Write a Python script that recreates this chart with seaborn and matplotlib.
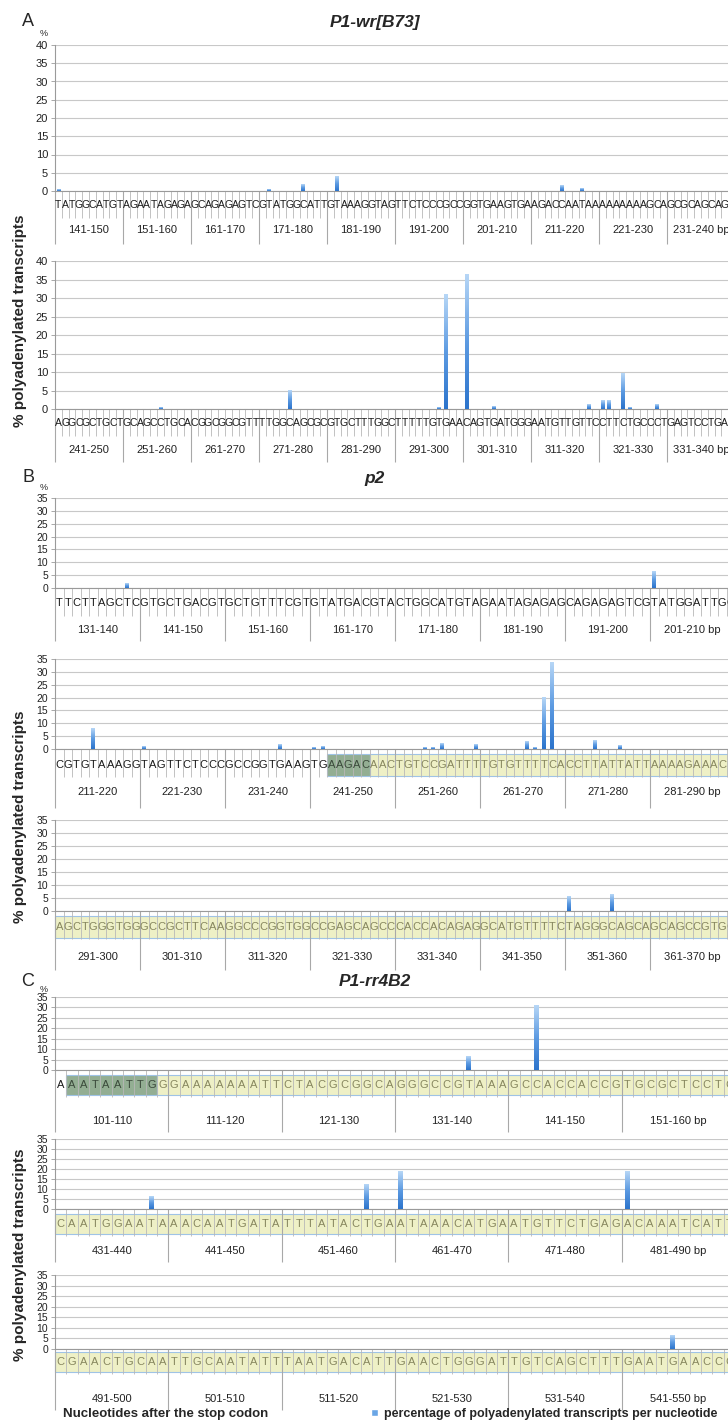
import numpy as np
import pandas as pd
import seaborn as sns
import matplotlib.pyplot as plt
from matplotlib.patches import Rectangle, Patch
from matplotlib.colors import LinearSegmentedColormap
from matplotlib.transforms import blended_transform_factory

W, H = 728, 1422

# Sequences (one string per chart row)
seq_a1 = "TATGGCATGTAGAATAGAGAGCAGAGAGTCGTATGGCATTGTAAAGGTAGTTCTCCCGCCGGTGAAGTGAAGACCAATAAAAAAAAAGCAGCGCAGCAGC"
seq_a2 = "AGGCGCTGCTGCAGCCTGCACGGCGGCGTTTTGGCAGCGCGTGCTTTGGCTTTTTGTGAACAGTGATGGGAATGTTGTTCCTTCTGCCCTGAGTCCTGAG"
seq_b1 = "TTCTTAGCTCGTGCTGACGTGCTGTTTCGTGTATGACGTACTGGCATGTAGAATAGAGAGCAGAGAGTCGTATGGATTGG"
seq_b2 = "CGTGTAAAGGTAGTTCTCCCGCCGGTGAAGTGAAGACAACTGTCCGATTTTGTGTTTTCACCTTATTATTAAAAGAAACT"
seq_b3 = "AGCTGGGTGGGCCGCTTCAAGGCCCGGTGGCCGAGCAGCCCACCACAGAGGCATGTTTTCTAGGGCAGCAGCAGCCGTGC"
seq_c1 = "AAATAATTGGGAAAAAAATTCTACGCGGCAGGGCCGTAAAGCCACCACCGTGCGCTCCTC"
seq_c2 = "CAATGGAATAAACAATGATATTTATACTGAATAAACATGAATGTTCTGAGACAAATCATT"
seq_c3 = "CGAACTGCAATTGCAATATTTAATGACATTGAACTGGGATTGTCAGCTTTGAATGAACCC"

# first nucleotide of each row
start_a1, start_a2 = 141, 241
start_b1, start_b2, start_b3 = 131, 211, 291
start_c1, start_c2, start_c3 = 101, 431, 491

# polyadenylation sites (nucleotide position) and % of transcripts
pos_a1 = [141, 172, 177, 182, 215, 218]
val_a1 = [0.5, 0.5, 1.9, 4.1, 1.4, 0.7]
pos_a2 = [256, 275, 297, 298, 301, 305, 319, 321, 322, 324, 325, 329]
val_a2 = [0.5, 5.0, 0.5, 31.0, 36.4, 0.8, 1.1, 2.2, 2.4, 9.6, 0.5, 1.1]
pos_b1 = [139, 201]
val_b1 = [1.8, 6.6]
pos_b2 = [215, 221, 237, 241, 242, 254, 255, 256, 260, 266, 267, 268, 269, 274, 277]
val_b2 = [8.1, 0.8, 1.7, 0.5, 1.0, 0.5, 0.5, 2.2, 1.7, 3.1, 0.4, 20.2, 33.5, 3.3, 1.3]
pos_b3 = [351, 356]
val_b3 = [5.7, 6.2]
pos_c1 = [137, 143]
val_c1 = [6.3, 31.1]
pos_c2 = [439, 458, 461, 481]
val_c2 = [6.2, 12.5, 18.9, 18.9]
pos_c3 = [545]
val_c3 = [6.4]

# highlighted stretches: (first, last) nucleotide
dark_b2 = (243, 247)
yellow_b2 = (248, 290)
yellow_b3 = (291, 370)
dark_c1 = (102, 109)
yellow_c1 = (110, 160)
yellow_c2 = (431, 490)
yellow_c3 = (491, 550)
dark_marks = [dark_b2, dark_c1]

titles = ["P1-wr[B73]", "p2", "P1-rr4B2"]
panels = ["A", "B", "C"]

# layout in pixels: top, baseline, sequence, tick end, labels, divider end, box
rows = [
    (seq_a1, start_a1, pos_a1, val_a1, 40, 45, 191, 205, 218, 230, 244, None, []),
    (seq_a2, start_a2, pos_a2, val_a2, 40, 261, 409, 423, 436, 450, 462, None, []),
    (seq_b1, start_b1, pos_b1, val_b1, 35, 498, 588, 603, 616, 630, 641, None, []),
    (seq_b2, start_b2, pos_b2, val_b2, 35, 659, 749, 765, 777, 792, 808, (754, 776), [dark_b2, yellow_b2]),
    (seq_b3, start_b3, pos_b3, val_b3, 35, 820, 911, 927, 939, 957, 970, (916, 938), [yellow_b3]),
    (seq_c1, start_c1, pos_c1, val_c1, 35, 997, 1070, 1085, 1097, 1121, 1132, (1075, 1095), [dark_c1, yellow_c1]),
    (seq_c2, start_c2, pos_c2, val_c2, 35, 1139, 1209, 1224, 1236, 1251, 1262, (1214, 1234), [yellow_c2]),
    (seq_c3, start_c3, pos_c3, val_c3, 35, 1275, 1349, 1362, 1374, 1399, 1410, (1352, 1372), [yellow_c3]),
]

BAR = "#6aa6e6"
GRID = "#c8c8c8"
AXC = "#9a9a9a"
DARK_FILL, DARK_TXT = "#93ae93", "#3b4a3b"
YEL_FILL, YEL_TXT = "#eef0c6", "#86865e"
bar_cmap = LinearSegmentedColormap.from_list("bar", ["#2c74cc", "#5d9be2", "#b6d6f6"])
grad = np.linspace(0, 1, 64).reshape(-1, 1)

sns.set_style("white")
plt.rcParams["font.family"] = ["Liberation Sans", "DejaVu Sans"]

fig = plt.figure(figsize=(W / 100, H / 100), dpi=100)


def fy(px):
    return 1 - px / H


X0, X1 = 55, 735

for seq, start, pos, val, ymax, top, base, sy, tend, ly, dend, box, marks in rows:
    n = len(seq)
    ax = fig.add_axes([X0 / W, fy(base), (X1 - X0) / W, (base - top) / H])
    pct = np.zeros(n)
    pct[np.array(pos) - start] = val
    df = pd.DataFrame({"pos": np.arange(start, start + n), "pct": pct})
    bw = {100: 0.55, 80: 0.45, 60: 0.4}[n]
    sns.barplot(data=df, x="pos", y="pct", color=BAR, width=bw, saturation=1,
                ax=ax, zorder=3)
    # vertical shading on each bar (dark base, light top)
    for p in list(ax.patches):
        h = p.get_height()
        if h <= 0:
            continue
        x0 = p.get_x()
        ax.imshow(grad, extent=[x0, x0 + p.get_width(), 0, h], origin="lower",
                  aspect="auto", cmap=bar_cmap, zorder=3, interpolation="bilinear")
        p.set_visible(False)

    tr = blended_transform_factory(ax.transData, fig.transFigure)
    letter_col = ["#1a1a1a"] * n
    for a, b in marks:
        is_dark = (a, b) in dark_marks
        rect = Rectangle((a - start - 0.5, fy(box[1])), b - a + 1, (box[1] - box[0]) / H,
                         transform=tr, facecolor=DARK_FILL if is_dark else YEL_FILL,
                         edgecolor="#9fc3e6", lw=0.8, clip_on=False, zorder=0.5)
        ax.add_patch(rect)
        for i in range(a - start, min(b - start + 1, n)):
            letter_col[i] = DARK_TXT if is_dark else YEL_TXT

    edges = np.arange(n + 1) - 0.5
    ax.vlines(edges, fy(tend), fy(base), transform=tr, colors="#b8b8b8", lw=0.6,
              clip_on=False, zorder=1)
    ax.vlines(edges[::10], fy(dend), fy(base), transform=tr, colors="#a8a8a8", lw=0.8,
              clip_on=False, zorder=1)

    fs = 7.5 if n == 100 else 8
    for i, ch in enumerate(seq):
        ax.text(i, fy(sy), ch, transform=tr, ha="center", va="center", fontsize=fs,
                color=letter_col[i], clip_on=False, zorder=2)
    for g in range(n // 10):
        lab = f"{start + 10 * g}-{start + 10 * g + 9}"
        if g == n // 10 - 1:
            lab += " bp"
        ax.text(10 * g + 4.5, fy(ly), lab, transform=tr, ha="center", va="center",
                fontsize=8, color="#222222", clip_on=False)

    ax.set_xlim(-0.5, n - 0.5)
    ax.set_ylim(0, ymax)
    ax.set_yticks(range(0, ymax + 1, 5))
    ax.set_xticks([])
    ax.set_xlabel("")
    ax.set_ylabel("")
    ax.grid(axis="y", color=GRID, lw=0.8)
    ax.set_axisbelow(True)
    for s in ["top", "right"]:
        ax.spines[s].set_visible(False)
    for s in ["left", "bottom"]:
        ax.spines[s].set_color(AXC)
        ax.spines[s].set_linewidth(0.8)
    ax.tick_params(axis="y", labelsize=8 if ymax == 40 else 7.5, length=3, width=0.6,
                   color=AXC, pad=2, labelcolor="#222222", left=True)

# panel letters, titles, "%" signs
for letter, title, ty, py in zip(panels, titles, [22, 478, 982], [33, 487, 989]):
    fig.text(28 / W, fy(ty), letter, fontsize=13, ha="center", va="center")
    fig.text(375 / W, fy(ty), title, fontsize=12.5, fontweight="bold", fontstyle="italic",
             ha="center", va="center")
    fig.text(44 / W, fy(py), "%", fontsize=6.5, ha="center", va="center")

for cy in [321, 817, 1255]:
    fig.text(20 / W, fy(cy), "% polyadenylated transcripts", rotation=90, fontsize=11,
             fontweight="bold", ha="center", va="center")

fig.text(63 / W, fy(1414), "Nucleotides after the stop codon", fontsize=9.5,
         fontweight="bold", ha="left", va="center")
fig.legend(handles=[Patch(facecolor=BAR)],
           labels=["percentage of polyadenylated transcripts per nucleotide"],
           loc="center left", bbox_to_anchor=(360 / W, fy(1414)), frameon=False,
           handlelength=0.5, handleheight=0.5, handletextpad=0.5,
           prop={"weight": "bold", "size": 9})

fig.savefig("out.png", dpi=100)
